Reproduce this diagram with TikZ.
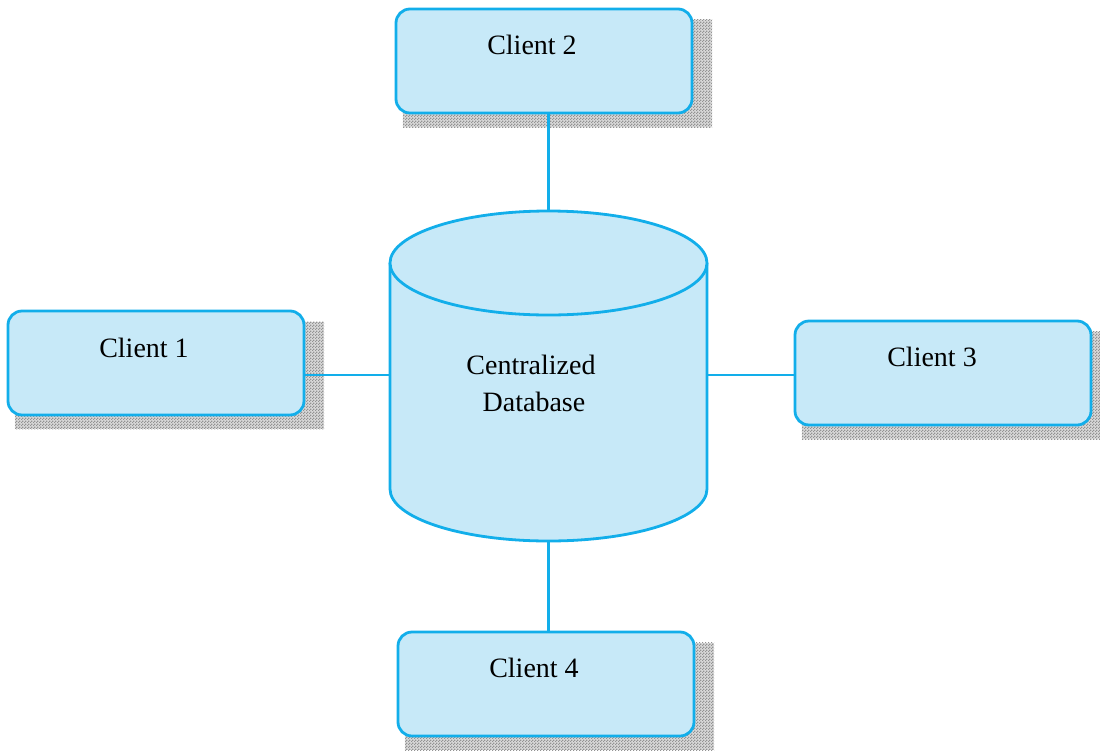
\documentclass[tikz,border=0pt]{standalone}
\usepackage{fontspec}
\setmainfont{Liberation Serif}
\usetikzlibrary{patterns,calc}
\definecolor{edge}{HTML}{12AEEA}
\definecolor{boxfill}{HTML}{C7E9F8}
\pgfdeclarepatternformonly{finechecker}{\pgfpointorigin}{\pgfqpoint{3pt}{3pt}}{\pgfqpoint{3pt}{3pt}}{%
  \pgfpathrectangle{\pgfpointorigin}{\pgfqpoint{1.5pt}{1.5pt}}%
  \pgfpathrectangle{\pgfqpoint{1.5pt}{1.5pt}}{\pgfqpoint{1.5pt}{1.5pt}}%
  \pgfusepath{fill}}
\tikzset{
  client/.style={draw=edge, fill=boxfill, line width=2.8pt, rounded corners=14pt,
    minimum width=296pt, minimum height=104pt, inner sep=0pt},
  placeholder/.style={minimum width=296pt, minimum height=104pt, inner sep=0pt},
  lbl/.style={font=\fontsize{28}{34}\selectfont, inner sep=0pt, align=center},
  conn/.style={draw=edge, line width=2.6pt},
}
\newcommand{\shadowof}[1]{%
  \fill[gray!30] ($(#1.north west)+(7,11)$) rectangle ($(#1.south east)+(20,14)$);
  \fill[pattern=finechecker, pattern color=gray!85] ($(#1.north west)+(7,11)$) rectangle ($(#1.south east)+(20,14)$);}
\begin{document}
\begin{tikzpicture}[x=1pt,y=-1pt]
\useasboundingbox (0,0) rectangle (1100,750);
\node[placeholder] (c1) at (156,363) {};
\node[placeholder] (c2) at (544,61) {};
\node[placeholder] (c3) at (943,373) {};
\node[placeholder] (c4) at (546,684) {};
\begin{scope}
\clip (0,0) rectangle (1100,750);
\shadowof{c1}\shadowof{c2}\shadowof{c3}\shadowof{c4}
\end{scope}
\node[client] at (c1) {};
\node[client] at (c2) {};
\node[client] at (c3) {};
\node[client] at (c4) {};
\node[lbl] (t1) at (144,348) {Client 1};
\node[lbl] (t2) at (532,45) {Client 2};
\node[lbl] (t3) at (932,357) {Client 3};
\node[lbl] (t4) at (534,668) {Client 4};
% database
\node[minimum width=317pt, minimum height=330pt, inner sep=0pt] (db) at (548.5,376) {};
\fill[boxfill] (390,263) -- (390,489) arc[start angle=180, end angle=360, x radius=158.5pt, y radius=52pt] -- (707,263) -- cycle;
\draw[edge, line width=2.8pt] (390,263) -- (390,489) arc[start angle=180, end angle=360, x radius=158.5pt, y radius=52pt] -- (707,263);
\draw[edge, fill=boxfill, line width=2.8pt] (548.5,263) ellipse[x radius=158.5pt, y radius=52pt];
\node[lbl] (dbt) at (531,365) {Centralized};
\node[lbl] (dbt2) at (534,402) {Database};
% connectors
\draw[conn] (db.north) -- (db.north |- c2.south);
\draw[conn] (db.south) -- (db.south |- c4.north);
\draw[conn] ([yshift=1pt]db.west) -- ([yshift=1pt]db.west -| c1.east);
\draw[conn] ([yshift=1pt]db.east) -- ([yshift=1pt]db.east -| c3.west);
\end{tikzpicture}
\end{document}
